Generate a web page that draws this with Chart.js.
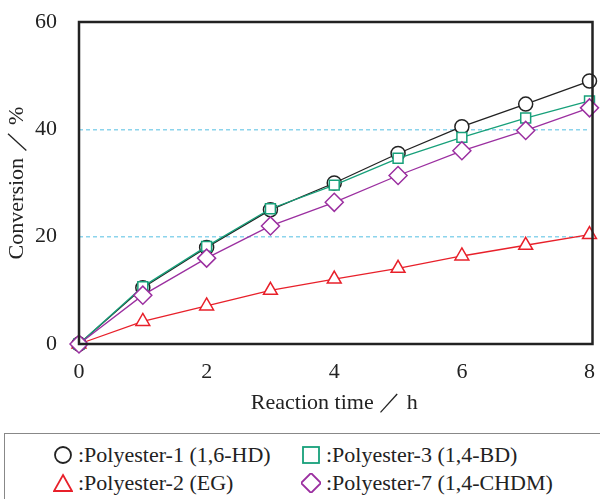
<!DOCTYPE html>
<html>
<head>
<meta charset="utf-8">
<script src="https://cdn.jsdelivr.net/npm/chart.js@4"></script>
<style>
  html, body { margin: 0; padding: 0; background: #fff; }
  #wrap { position: relative; width: 600px; height: 499px; overflow: hidden; }
  #cv { position: absolute; left: 0; top: 0; }
  #legend {
    position: absolute; left: 4px; top: 433px; width: 610px; height: 80px;
    border: 1px solid #888; box-sizing: border-box;
    font-family: "Liberation Serif", serif; font-size: 22px; color: #222;
  }
  .item { position: absolute; white-space: nowrap; line-height: 24px; }
  .item svg { vertical-align: -3px; margin-right: 5px; }
</style>
</head>
<body>
<div id="wrap">
  <canvas id="cv" width="600" height="430"></canvas>
  <div id="legend"></div>
</div>
<script>
// data
var hours = [0, 1, 2, 3, 4, 5, 6, 7, 8];
var xTicks = [0, 2, 4, 6, 8];
var yTicks = [0, 20, 40, 60];
var poly1 = [0, 10.5, 18.0, 25.0, 30.0, 35.5, 40.5, 44.7, 49.0];
var poly3 = [0, 10.7, 18.2, 25.2, 29.6, 34.6, 38.5, 42.1, 45.3];
var poly2 = [0, 4.2, 7.1, 10.0, 12.1, 14.1, 16.4, 18.4, 20.4];
var poly7 = [0, 9.1, 16.0, 22.0, 26.4, 31.4, 36.0, 39.8, 44.0];

var labels = ['Polyester-1 (1,6-HD)', 'Polyester-3 (1,4-BD)', 'Polyester-2 (EG)', 'Polyester-7 (1,4-CHDM)'];

function pts(arr) {
    return arr.map(function(v, i) { return {x: hours[i], y: v}; });
}

function ds(label, arr, color, style, r) {
    return {
        label: label,
        data: pts(arr),
        borderColor: color,
        backgroundColor: '#fff',
        borderWidth: 1.3,
        pointStyle: style,
        pointRadius: r,
        pointBorderWidth: 1.5,
        pointBorderColor: color,
        pointBackgroundColor: '#fff',
        tension: 0
    };
}

var frame = {
    id: 'frame',
    afterDatasetsDraw: function(chart) {
        var a = chart.chartArea, ctx = chart.ctx;
        ctx.save();
        ctx.strokeStyle = '#222';
        ctx.lineWidth = 2.5;
        ctx.strokeRect(a.left, a.top, a.right - a.left + 3, a.bottom - a.top);
        ctx.restore();
    }
};

var font = { family: '"Liberation Serif", serif', size: 22 };

new Chart(document.getElementById('cv'), {
    type: 'line',
    data: {
        // first dataset ends up on top
        datasets: [
            ds(labels[3], poly7, '#9b2fa0', 'rectRot', 9),
            ds(labels[1], poly3, '#17a07a', 'rect', 7),
            ds(labels[0], poly1, '#222', 'circle', 7),
            ds(labels[2], poly2, '#e8202a', 'triangle', 8)
        ]
    },
    options: {
        responsive: false,
        animation: false,
        clip: false,
        layout: { padding: { top: 22, right: 7, left: 0, bottom: 10 } },
        plugins: { legend: { display: false }, tooltip: { enabled: false } },
        scales: {
            x: {
                type: 'linear', min: 0, max: 8,
                afterBuildTicks: function(s) { s.ticks = xTicks.map(function(v) { return {value: v}; }); },
                afterFit: function(s) { s.height = 76; s.paddingLeft = 0; s.paddingRight = 0; },
                grid: { display: false },
                border: { display: false },
                ticks: { font: font, color: '#222', padding: 7, maxRotation: 0 },
                title: { display: true, text: 'Reaction time ／ h', font: font, color: '#222', padding: { top: 4 } }
            },
            y: {
                min: 0, max: 60,
                afterBuildTicks: function(s) { s.ticks = yTicks.map(function(v) { return {value: v}; }); },
                afterFit: function(s) { s.width = 79; s.paddingTop = 0; s.paddingBottom = 0; },
                grid: {
                    drawTicks: false,
                    lineWidth: 1.4,
                    color: function(c) { return (c.tick.value === 20 || c.tick.value === 40) ? '#8cd4ec' : 'rgba(0,0,0,0)'; }
                },
                border: { display: false, dash: [4, 3] },
                ticks: { font: font, color: '#222', padding: 22 },
                title: { display: true, text: 'Conversion ／ %', font: font, color: '#222', padding: { bottom: 0 } }
            }
        }
    },
    plugins: [frame]
});

// legend in two columns, markers as small svgs
var marks = {
    circle: '<circle cx="10" cy="10" r="8" fill="none" stroke="#222" stroke-width="1.8"/>',
    square: '<rect x="2" y="2" width="16" height="16" fill="none" stroke="#17a07a" stroke-width="1.8"/>',
    tri: '<polygon points="10,2 19,18 1,18" fill="none" stroke="#e8202a" stroke-width="1.8"/>',
    dia: '<polygon points="10,0 20,10 10,20 0,10" fill="none" stroke="#9b2fa0" stroke-width="1.8"/>'
};
var legendItems = [
    { m: 'circle', text: labels[0], left: 48, top: 9 },
    { m: 'square', text: labels[1], left: 296, top: 9 },
    { m: 'tri', text: labels[2], left: 48, top: 37 },
    { m: 'dia', text: labels[3], left: 296, top: 37 }
];
var lg = document.getElementById('legend');
legendItems.forEach(function(it) {
    var d = document.createElement('div');
    d.className = 'item';
    d.style.left = it.left + 'px';
    d.style.top = it.top + 'px';
    d.innerHTML = '<svg width="20" height="20">' + marks[it.m] + '</svg>:' + it.text;
    lg.appendChild(d);
});
</script>
</body>
</html>
